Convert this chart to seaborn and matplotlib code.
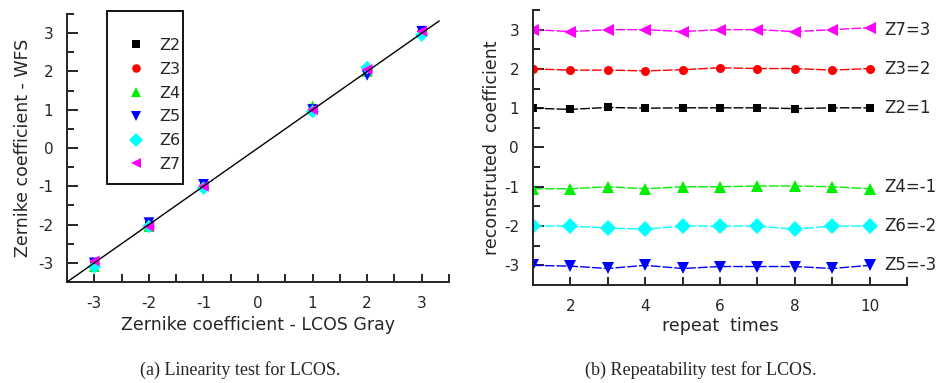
import numpy as np
import pandas as pd
import matplotlib
matplotlib.use("Agg")
import matplotlib.pyplot as plt
from matplotlib.patches import Rectangle
from matplotlib.ticker import MultipleLocator
import seaborn as sns

# ─────────────────────────────────────────
# DATA
# ─────────────────────────────────────────
modes = ["Z2", "Z3", "Z4", "Z5", "Z6", "Z7"]

# (a) linearity: LCOS gray coefficient vs WFS measured coefficient
lcos_gray = [-3, -2, -1, 1, 2, 3]
wfs_z2 = [-3.00, -2.00, -1.00, 1.05, 2.00, 3.05]
wfs_z3 = [-3.00, -2.05, -1.00, 1.00, 2.05, 3.05]
wfs_z4 = [-3.10, -2.05, -0.95, 1.10, 2.00, 3.05]
wfs_z5 = [-3.00, -1.95, -0.95, 1.00, 1.90, 3.05]
wfs_z6 = [-3.10, -2.05, -1.05, 0.95, 2.10, 2.95]
wfs_z7 = [-2.95, -2.05, -1.00, 1.00, 2.05, 3.05]
fit_range = [-3.5, 3.32]

# (b) repeatability: 10 repeats per mode
repeats = [1, 2, 3, 4, 5, 6, 7, 8, 9, 10]
rep_z2 = [1.00, 0.97, 1.02, 1.00, 1.01, 1.01, 1.01, 0.99, 1.01, 1.01]
rep_z3 = [2.00, 1.97, 1.97, 1.95, 1.98, 2.03, 2.01, 2.01, 1.97, 2.01]
rep_z4 = [-1.05, -1.05, -1.00, -1.05, -1.00, -1.00, -0.98, -0.98, -1.00, -1.05]
rep_z5 = [-3.00, -3.02, -3.08, -3.00, -3.08, -3.03, -3.03, -3.03, -3.08, -3.00]
rep_z6 = [-2.00, -2.00, -2.05, -2.08, -2.00, -2.00, -2.00, -2.08, -2.00, -2.00]
rep_z7 = [3.00, 2.95, 3.00, 3.00, 2.95, 3.00, 3.00, 2.95, 3.00, 3.05]
nominal = {"Z2": 1, "Z3": 2, "Z4": -1, "Z5": -3, "Z6": -2, "Z7": 3}

colors = {"Z2": "#000000", "Z3": "#ff0000", "Z4": "#00ee00",
          "Z5": "#0000ff", "Z6": "#00ffff", "Z7": "#ff00ff"}
marker_map = {"Z2": "s", "Z3": "o", "Z4": "^", "Z5": "v", "Z6": "D", "Z7": "<"}
# marker sizes (scatter: pt^2, line: pt) so squares look smaller than triangles
scatter_sizes = {"Z2": 28, "Z3": 38, "Z4": 60, "Z5": 60, "Z6": 48, "Z7": 60}
line_msize = {"Z2": 6.0, "Z3": 6.5, "Z4": 9.0, "Z5": 9.0, "Z6": 8.0, "Z7": 9.0}

lin_vals = [wfs_z2, wfs_z3, wfs_z4, wfs_z5, wfs_z6, wfs_z7]
rep_vals = [rep_z2, rep_z3, rep_z4, rep_z5, rep_z6, rep_z7]

df_lin = pd.DataFrame([
    {"mode": m, "lcos": x, "wfs": y}
    for m, vals in zip(modes, lin_vals) for x, y in zip(lcos_gray, vals)
])
df_rep = pd.DataFrame([
    {"mode": m, "repeat": x, "coef": y}
    for m, vals in zip(modes, rep_vals) for x, y in zip(repeats, vals)
])

# ─────────────────────────────────────────
# STYLE
# ─────────────────────────────────────────
sns.set_style("ticks")
plt.rcParams["font.family"] = ["DejaVu Sans"]
plt.rcParams["axes.linewidth"] = 1.4
plt.rcParams["axes.unicode_minus"] = False

fig = plt.figure(figsize=(9.4, 3.83), dpi=100)
ax1 = fig.add_axes([0.0713, 0.2637, 0.4064, 0.6997])
ax2 = fig.add_axes([0.567, 0.2559, 0.3979, 0.718])

for ax in (ax1, ax2):
    sns.despine(ax=ax)
    ax.set_ylim(-3.5, 3.5)
    ax.yaxis.set_major_locator(MultipleLocator(1))
    ax.yaxis.set_minor_locator(MultipleLocator(0.5))
    ax.tick_params(which="both", direction="in", color="black", width=1.2,
                   labelsize=11)
    ax.tick_params(axis="y", which="major", length=8, pad=10)
    ax.tick_params(axis="y", which="minor", length=5)
    ax.tick_params(axis="x", which="both", length=6, pad=10)

# ─────────────────────────────────────────
# (a) LINEARITY
# ─────────────────────────────────────────
ax1.plot(fit_range, fit_range, color="black", lw=1.0, zorder=4)
sns.scatterplot(data=df_lin, x="lcos", y="wfs", hue="mode", style="mode",
                size="mode", sizes=scatter_sizes, palette=colors,
                markers=marker_map, linewidth=0, ax=ax1, zorder=3)
ax1.set_xlim(-3.5, 3.5)
ax1.xaxis.set_major_locator(MultipleLocator(1))
ax1.xaxis.set_minor_locator(MultipleLocator(0.5))
ax1.set_xlabel("Zernike coefficient - LCOS Gray", fontsize=12.5, labelpad=4)
ax1.set_ylabel("Zernike coefficient - WFS", fontsize=12.5, labelpad=4)

handles, labels = ax1.get_legend_handles_labels()
ax1.legend(handles, labels, loc="upper left", bbox_to_anchor=(0.14, 0.94),
           frameon=False, fontsize=11.5, handlelength=1.0, handletextpad=0.95,
           labelspacing=0.55, borderpad=0)
ax1.add_patch(Rectangle((0.105, 0.366), 0.199, 0.645, transform=ax1.transAxes,
                        fill=False, ec="black", lw=1.3, clip_on=False, zorder=5))

# ─────────────────────────────────────────
# (b) REPEATABILITY
# ─────────────────────────────────────────
for m in modes:
    sns.lineplot(data=df_rep[df_rep["mode"] == m], x="repeat", y="coef",
                 color=colors[m], marker=marker_map[m],
                 markersize=line_msize[m], mew=0, dashes=(7, 1.5),
                 lw=1.0, estimator=None, ax=ax2)
    ax2.text(10.4, nominal[m], f"{m}={nominal[m]}", fontsize=12,
             ha="left", va="center", clip_on=False)
ax2.set_xlim(1, 11)
ax2.xaxis.set_major_locator(MultipleLocator(2))
ax2.xaxis.set_minor_locator(MultipleLocator(1))
ax2.set_xlabel("repeat  times", fontsize=12.5, labelpad=2)
ax2.set_ylabel("reconstruted  coefficient", fontsize=12.5, labelpad=2)

# ─────────────────────────────────────────
# CAPTIONS
# ─────────────────────────────────────────
fig.text(0.256, 0.034, "(a) Linearity test for LCOS.", ha="center",
         va="center", family="Liberation Serif", fontsize=13)
fig.text(0.745, 0.034, "(b) Repeatability test for LCOS.", ha="center",
         va="center", family="Liberation Serif", fontsize=13)

fig.savefig("out.png", dpi=100)
